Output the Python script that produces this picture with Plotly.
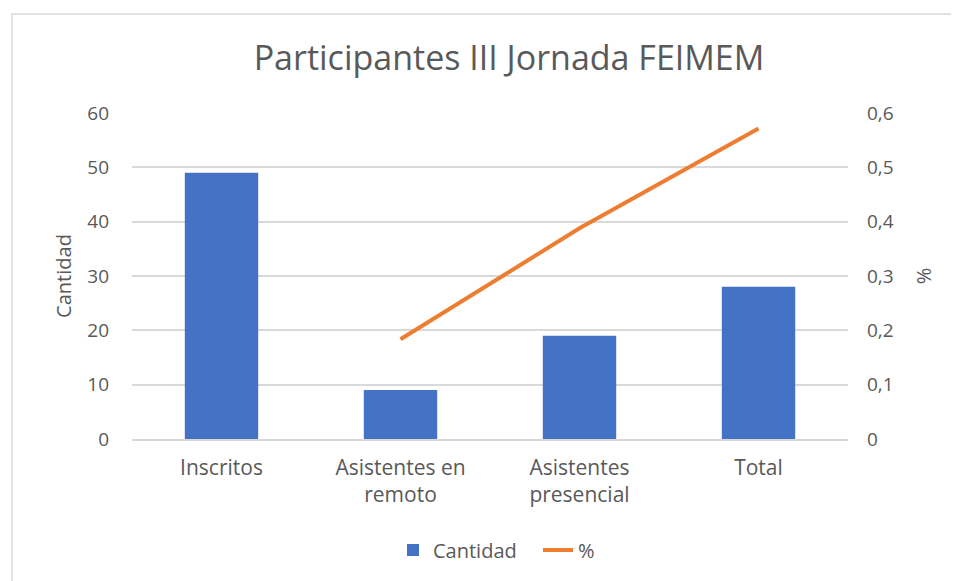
import plotly.graph_objects as go

categories = ["Inscritos", "Asistentes en<br>remoto", "Asistentes<br>presencial", "Total"]
cantidad = [49, 9, 19, 28]
porcentaje = [None, 0.1837, 0.3878, 0.5714]

FONT = "Open Sans"
GRAY = "#595959"
TICK = 19

fig = go.Figure()
fig.add_trace(go.Bar(x=categories, y=cantidad, name="Cantidad",
                     marker=dict(color="#4472C4", line=dict(width=0)), yaxis="y"))
fig.add_trace(go.Scatter(x=categories, y=porcentaje, name="%", mode="lines",
                         line=dict(color="#ED7D31", width=4), yaxis="y2"))

L, R, T, B = 124, 119, 105, 150
PW, PH = 959 - L - R, 581 - T - B

fig.update_layout(
    width=959, height=581,
    margin=dict(l=L, r=R, t=T, b=B),
    paper_bgcolor="white", plot_bgcolor="white",
    separators=",.",
    font=dict(family=FONT, size=TICK, color=GRAY),
    title=dict(text="Participantes III Jornada FEIMEM", x=501 / 959, xanchor="center",
               y=1 - 50 / 581, yanchor="middle", font=dict(size=34, color=GRAY, family=FONT)),
    bargap=0.59,
    xaxis=dict(showgrid=False, showline=True, linecolor="#D9D9D9", linewidth=1.5, ticks="",
               ticklabelstandoff=9, tickfont=dict(size=21, color=GRAY)),
    yaxis=dict(range=[0, 60], dtick=10, showgrid=True, gridcolor="#D9D9D9", gridwidth=1.5,
               zeroline=False, ticks="", ticklabelstandoff=22,
               title=dict(text="Cantidad", font=dict(size=20, color=GRAY), standoff=10),
               tickfont=dict(size=TICK, color=GRAY)),
    yaxis2=dict(range=[0, 0.6], dtick=0.1, overlaying="y", side="right",
                showgrid=False, zeroline=False, ticks="", ticklabelstandoff=18,
                title=dict(text="%", font=dict(size=20, color=GRAY), standoff=24),
                tickfont=dict(size=TICK, color=GRAY)),
    legend=dict(orientation="h", x=(385 - L) / PW, xanchor="left",
                y=(581 - B - 542) / PH, yanchor="middle",
                entrywidth=100, entrywidthmode="pixels",
                font=dict(size=20, color=GRAY), traceorder="normal"),
    shapes=[dict(type="rect", xref="paper", yref="paper",
                 x0=(4 - L) / PW, x1=1.3, y0=-0.8, y1=(581 - B - 6) / PH,
                 line=dict(color="#D9D9D9", width=1.5), fillcolor="rgba(0,0,0,0)",
                 layer="below")],
)

fig.write_html("out.html")
